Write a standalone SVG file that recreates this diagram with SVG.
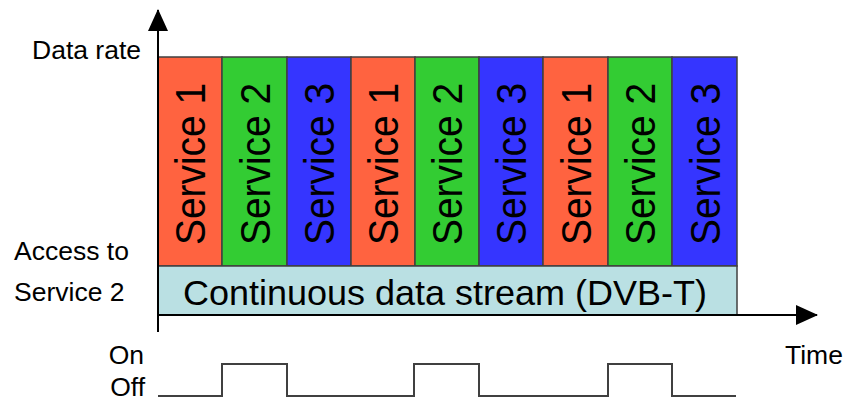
<svg xmlns="http://www.w3.org/2000/svg" width="845" height="401" viewBox="0 0 845 401">
  <style>
    text { font-family: "Liberation Sans", Arial, sans-serif; fill: #000; }
    .lbl { font-size: 26.5px; }
    .svc { font-size: 42px; }
    .blk { stroke: #404040; stroke-width: 1.5; }
    .s1 { fill: #FF6340; }
    .s2 { fill: #33CC33; }
    .s3 { fill: #3535FF; }
    .axis { stroke: #000; stroke-width: 2; fill: none; }
    .wave { stroke: #404040; stroke-width: 2; fill: none; }
  </style>
  <defs>
    <marker id="arrow" viewBox="0 0 22 20" refX="21" refY="10" markerWidth="22" markerHeight="20" markerUnits="userSpaceOnUse" orient="auto">
      <path d="M0,0 L22,10 L0,20 Z" fill="#000"/>
    </marker>
  </defs>

  <rect width="845" height="401" fill="#fff"/>

  <!-- service time slots -->
  <g id="slot1"><rect class="blk s1" x="158" y="57" width="64" height="209"/><text class="svc" transform="translate(205,164) rotate(-90)" text-anchor="middle" textLength="162" lengthAdjust="spacingAndGlyphs">Service 1</text></g>
  <g id="slot2"><rect class="blk s2" x="222" y="57" width="65" height="209"/><text class="svc" transform="translate(270,164) rotate(-90)" text-anchor="middle" textLength="162" lengthAdjust="spacingAndGlyphs">Service 2</text></g>
  <g id="slot3"><rect class="blk s3" x="287" y="57" width="64" height="209"/><text class="svc" transform="translate(334,164) rotate(-90)" text-anchor="middle" textLength="162" lengthAdjust="spacingAndGlyphs">Service 3</text></g>
  <g id="slot4"><rect class="blk s1" x="351" y="57" width="64" height="209"/><text class="svc" transform="translate(398,164) rotate(-90)" text-anchor="middle" textLength="162" lengthAdjust="spacingAndGlyphs">Service 1</text></g>
  <g id="slot5"><rect class="blk s2" x="415" y="57" width="64" height="209"/><text class="svc" transform="translate(462,164) rotate(-90)" text-anchor="middle" textLength="162" lengthAdjust="spacingAndGlyphs">Service 2</text></g>
  <g id="slot6"><rect class="blk s3" x="479" y="57" width="64" height="209"/><text class="svc" transform="translate(526,164) rotate(-90)" text-anchor="middle" textLength="162" lengthAdjust="spacingAndGlyphs">Service 3</text></g>
  <g id="slot7"><rect class="blk s1" x="543" y="57" width="65" height="209"/><text class="svc" transform="translate(591,164) rotate(-90)" text-anchor="middle" textLength="162" lengthAdjust="spacingAndGlyphs">Service 1</text></g>
  <g id="slot8"><rect class="blk s2" x="608" y="57" width="64" height="209"/><text class="svc" transform="translate(655,164) rotate(-90)" text-anchor="middle" textLength="162" lengthAdjust="spacingAndGlyphs">Service 2</text></g>
  <g id="slot9"><rect class="blk s3" x="672" y="57" width="65" height="209"/><text class="svc" transform="translate(720,164) rotate(-90)" text-anchor="middle" textLength="162" lengthAdjust="spacingAndGlyphs">Service 3</text></g>

  <!-- continuous stream band -->
  <g id="stream">
    <rect class="blk" x="158" y="266" width="579" height="49" fill="#BAE0E3"/>
    <text x="445" y="305" font-size="35" text-anchor="middle" textLength="524" lengthAdjust="spacingAndGlyphs">Continuous data stream (DVB-T)</text>
  </g>

  <!-- axes -->
  <g id="axes">
    <line class="axis" x1="158" y1="332" x2="158" y2="10" marker-end="url(#arrow)"/>
    <line class="axis" x1="158" y1="315" x2="817" y2="315" marker-end="url(#arrow)"/>
  </g>

  <!-- on/off access signal -->
  <g id="signal">
    <polyline class="wave" points="158,396 222,396 222,364 287,364 287,396 414,396 414,364 479,364 479,396 608,396 608,364 672,364 672,396 736,396"/>
  </g>

  <!-- labels -->
  <g id="labels">
    <text class="lbl" x="32" y="59">Data rate</text>
    <text class="lbl" x="14" y="260">Access to</text>
    <text class="lbl" x="14" y="301">Service 2</text>
    <text class="lbl" x="144" y="364" text-anchor="end">On</text>
    <text class="lbl" x="145" y="396" text-anchor="end">Off</text>
    <text class="lbl" x="785" y="364">Time</text>
  </g>
</svg>
